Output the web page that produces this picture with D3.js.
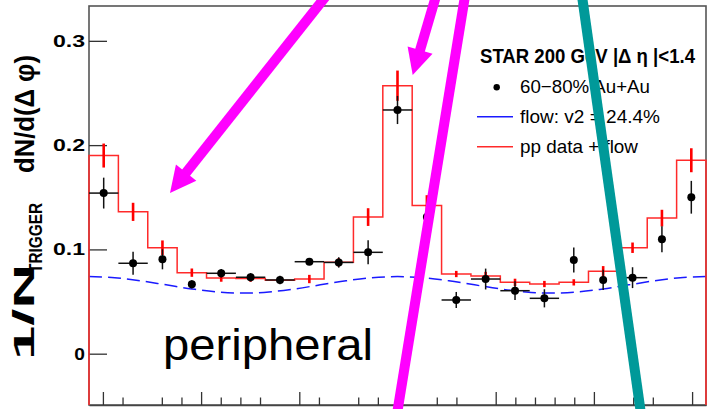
<!DOCTYPE html>
<html>
<head>
<meta charset="utf-8">
<script src="https://cdn.jsdelivr.net/npm/d3@7"></script>
<style>
  body { margin: 0; background: #fff; }
  svg { display: block; font-family: "Liberation Sans", Arial, Helvetica, sans-serif; }
</style>
</head>
<body>
<script>
  var W = 709, H = 409;

  // 21 bins in delta phi, -pi .. pi
  var nBins = 21;
  var auau    = [0.154, 0.0867, 0.0905, 0.0665, 0.0771, 0.0733, 0.0707, 0.0882, 0.0875, 0.0972, 0.2337,
                 0.131, 0.0515, 0.0716, 0.0604, 0.0531, 0.0898, 0.0707, 0.0729, 0.1097, 0.150];
  var auauErr = [0.0148, 0.011, 0.0096, 0.004, 0.004, 0.004, 0.004, 0.003, 0.005, 0.0115, 0.0135,
                 0.01, 0.0077, 0.01, 0.009, 0.0087, 0.012, 0.0097, 0.01, 0.0125, 0.0157];
  // horizontal bars that show in the picture (1) or not (0)
  var auauXBar = [1, 1, 0, 0, 1, 1, 1, 1, 1, 1, 1,
                  0, 1, 1, 1, 1, 0, 0, 1, 0, 0];
  var ppFlow    = [0.190, 0.136, 0.1016, 0.0777, 0.0725, 0.0720, 0.0705, 0.0716, 0.0876, 0.131, 0.257,
                   0.142, 0.0764, 0.0745, 0.0684, 0.0668, 0.0684, 0.079, 0.1016, 0.130, 0.1855];
  var ppFlowErr = [0.0115, 0.0087, 0.007, 0.004, 0.0035, 0.003, 0.003, 0.004, 0.004, 0.0085, 0.0145,
                   0.01, 0.003, 0.004, 0.0035, 0.003, 0.003, 0.005, 0.005, 0.008, 0.0115];

  // flow curve, read every 15 degrees
  var flowDeg = [-180, -165, -150, -135, -120, -105, -90, -75, -60, -45, -30, -15, 0,
                 15, 30, 45, 60, 75, 90, 105, 120, 135, 150, 165, 180];
  var flowVal = [0.0739, 0.0728, 0.0699, 0.0660, 0.0621, 0.0592, 0.0581, 0.0592, 0.0621, 0.0660, 0.0699, 0.0728, 0.0739,
                 0.0728, 0.0699, 0.0660, 0.0621, 0.0592, 0.0581, 0.0592, 0.0621, 0.0660, 0.0699, 0.0728, 0.0739];

  var yTicks = [0, 0.1, 0.2, 0.3],
      yTickLabels = ["0", "0.1", "0.2", "0.3"];
  var xTicks = [-3, -2.8, -2.4, -2.2, -2, -1.8, -1.6, -1.4, -1, -0.8, -0.4, -0.2, 0,
                0.4, 0.6, 1, 1.2, 1.4, 1.6, 1.8, 2, 2.4, 2.6, 3];

  var fLeft = 89, fRight = 706, fTop = 6, fBottom = 405;

  var x = d3.scaleLinear().domain([-Math.PI, Math.PI]).range([fLeft, fRight]);
  var y = d3.scaleLinear().domain([-0.0492, 0.3334]).range([fBottom, fTop]);
  var bw = 2 * Math.PI / nBins;
  function lo(i) { return -Math.PI + i * bw; }
  function mid(i) { return -Math.PI + (i + 0.5) * bw; }

  var svg = d3.select("body").append("svg")
    .attr("width", W)
    .attr("height", H);

  // frame
  svg.append("rect")
    .attr("x", fLeft).attr("y", fTop)
    .attr("width", fRight - fLeft).attr("height", fBottom - fTop)
    .attr("fill", "none").attr("stroke", "#555").attr("stroke-width", 1.6);

  // axes
  var xAxis = svg.append("g")
    .attr("transform", "translate(0," + fBottom + ")")
    .call(d3.axisBottom(x).tickValues(xTicks).tickSizeInner(-7.5).tickSizeOuter(0).tickFormat(""));
  xAxis.select(".domain").attr("stroke", "#444").attr("stroke-width", 1.6);
  xAxis.selectAll(".tick line")
    .attr("stroke", "#333").attr("stroke-width", 1.3)
    .attr("y2", function(d) { return Math.round(d) === d ? -13 : -7.5; });

  var yAxis = svg.append("g")
    .attr("transform", "translate(" + fLeft + ",0)")
    .call(d3.axisLeft(y).tickValues(yTicks).tickSizeInner(-18).tickSizeOuter(0).tickPadding(4)
      .tickFormat(function(d, i) { return yTickLabels[i]; }));
  yAxis.select(".domain").remove();
  yAxis.selectAll(".tick line").attr("stroke", "#333").attr("stroke-width", 1.3);
  yAxis.selectAll(".tick text")
    .attr("fill", "#000")
    .attr("font-family", "Liberation Sans, Arial, sans-serif")
    .attr("font-weight", "bold")
    .attr("font-size", 17)
    .attr("textLength", function(d, i) { return yTickLabels[i].length * 10.7; })
    .attr("lengthAdjust", "spacingAndGlyphs");

  // flow curve
  var flowLine = d3.line()
    .x(function(d, i) { return x(flowDeg[i] * Math.PI / 180); })
    .y(function(d) { return y(d); })
    .curve(d3.curveCatmullRom);
  svg.append("path")
    .attr("d", flowLine(flowVal))
    .attr("fill", "none")
    .attr("stroke", "#1a1aff")
    .attr("stroke-width", 1.5)
    .attr("stroke-dasharray", "13,6");

  // pp + flow histogram (step), drops to frame bottom at both ends
  var steps = [[x(-Math.PI), fBottom]];
  ppFlow.forEach(function(v, i) {
    steps.push([x(lo(i)), y(v)]);
    steps.push([x(lo(i) + bw), y(v)]);
  });
  steps.push([x(Math.PI), fBottom]);
  svg.append("path")
    .attr("d", d3.line()(steps))
    .attr("fill", "none")
    .attr("stroke", "#ff2a2a")
    .attr("stroke-width", 1.5);

  svg.append("g").selectAll("line")
    .data(ppFlow)
    .enter().append("line")
      .attr("x1", function(d, i) { return x(mid(i)); })
      .attr("x2", function(d, i) { return x(mid(i)); })
      .attr("y1", function(d, i) { return y(d - ppFlowErr[i]); })
      .attr("y2", function(d, i) { return y(d + ppFlowErr[i]); })
      .attr("stroke", "#ff0000")
      .attr("stroke-width", 2.6);

  // Au+Au points
  var pts = svg.append("g").selectAll("g")
    .data(d3.range(nBins))
    .enter().append("g");
  pts.filter(function(i) { return auauXBar[i]; })
    .append("line")
    .attr("x1", function(i) { return x(lo(i)); })
    .attr("x2", function(i) { return x(lo(i) + bw); })
    .attr("y1", function(i) { return y(auau[i]); })
    .attr("y2", function(i) { return y(auau[i]); })
    .attr("stroke", "#111").attr("stroke-width", 1.5);
  pts.append("line")
    .attr("x1", function(i) { return x(mid(i)); })
    .attr("x2", function(i) { return x(mid(i)); })
    .attr("y1", function(i) { return y(auau[i] - auauErr[i]); })
    .attr("y2", function(i) { return y(auau[i] + auauErr[i]); })
    .attr("stroke", "#111").attr("stroke-width", 1.5);
  pts.append("circle")
    .attr("cx", function(i) { return x(mid(i)); })
    .attr("cy", function(i) { return y(auau[i]); })
    .attr("r", 4)
    .attr("fill", "#000");

  // y title, ROOT style
  function rotText(txt, bx, by, size, len) {
    svg.append("text")
      .attr("transform", "translate(" + bx + "," + by + ")rotate(-90)")
      .attr("font-weight", "bold")
      .attr("font-size", size)
      .attr("textLength", len)
      .attr("lengthAdjust", "spacingAndGlyphs")
      .text(txt);
  }
  rotText("1/N", 34, 360, 29, 96);
  rotText("TRIGGER", 42, 273, 19, 70);
  rotText("dN/d(\u0394 \u03c6)", 34, 173, 27, 118);

  // legend
  var lg = svg.append("g");
  lg.append("text")
    .attr("x", 480).attr("y", 62.7)
    .attr("font-weight", "bold").attr("font-size", 19.5)
    .attr("textLength", 215).attr("lengthAdjust", "spacingAndGlyphs")
    .text("STAR 200 GeV |\u0394 \u03b7 |<1.4");
  var legendRows = [
    { label: "60\u221280% Au+Au", len: 130, base: 92.7 },
    { label: "flow: v2 = 24.4%", len: 140, base: 123.3 },
    { label: "pp data + flow", len: 118, base: 152.7 }
  ];
  lg.selectAll("text.row")
    .data(legendRows)
    .enter().append("text")
      .attr("class", "row")
      .attr("x", 520)
      .attr("y", function(d) { return d.base; })
      .attr("font-size", 18.5)
      .attr("textLength", function(d) { return d.len; })
      .attr("lengthAdjust", "spacingAndGlyphs")
      .text(function(d) { return d.label; });
  lg.append("circle").attr("cx", 496.7).attr("cy", 87.3).attr("r", 3.2).attr("fill", "#000");
  lg.append("line").attr("x1", 477).attr("x2", 513).attr("y1", 116.7).attr("y2", 116.7)
    .attr("stroke", "#1a1aff").attr("stroke-width", 1.5);
  lg.append("line").attr("x1", 477).attr("x2", 513).attr("y1", 146.7).attr("y2", 146.7)
    .attr("stroke", "#ff2a2a").attr("stroke-width", 1.5);

  svg.append("text")
    .attr("x", 163).attr("y", 360)
    .attr("font-size", 45)
    .attr("textLength", 210).attr("lengthAdjust", "spacingAndGlyphs")
    .text("peripheral");

  // slide annotations drawn over the plot
  var marks = [
    { from: [326, -4], to: [170, 193], head: true, color: "#ff00ff" },
    { from: [436, -4], to: [412.7, 75], head: true, color: "#ff00ff" },
    { from: [465, -4], to: [397, 414], head: false, color: "#ff00ff" },
    { from: [582, -4], to: [641, 414], head: false, color: "#009999" }
  ];
  marks.forEach(function(m) {
    var dx = m.from[0] - m.to[0], dy = m.from[1] - m.to[1],
        L = Math.sqrt(dx * dx + dy * dy), ux = dx / L, uy = dy / L,
        hl = m.head ? 26 : 0, hw = 13;
    svg.append("line")
      .attr("x1", m.from[0]).attr("y1", m.from[1])
      .attr("x2", m.to[0] + ux * hl * 0.8).attr("y2", m.to[1] + uy * hl * 0.8)
      .attr("stroke", m.color).attr("stroke-width", 10);
    if (m.head) {
      var bx = m.to[0] + ux * hl, by = m.to[1] + uy * hl;
      svg.append("polygon")
        .attr("points", [[m.to[0], m.to[1]], [bx - uy * hw, by + ux * hw], [bx + uy * hw, by - ux * hw]].join(" "))
        .attr("fill", m.color);
    }
  });
</script>
</body>
</html>
